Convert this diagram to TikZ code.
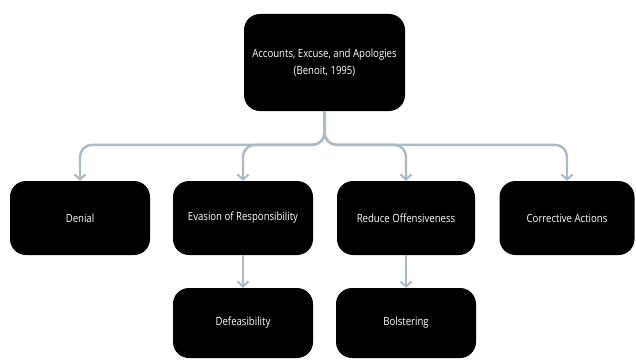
\documentclass[tikz,border=0pt]{standalone}
\usepackage{fontspec}
\setmainfont[FakeStretch=0.85]{Open Sans}
\usetikzlibrary{arrows.meta}
\definecolor{linec}{HTML}{A9BBC6}
\tikzset{
  box/.style={fill=black, rounded corners=16pt, text=white, align=center,
    font=\fontsize{11.3}{17}\selectfont, inner sep=0pt},
  conn/.style={draw=linec, line width=2.4pt, rounded corners=12pt,
    -{Straight Barb[length=5pt,width=11pt,line width=2pt]}},
}
\begin{document}
\begin{tikzpicture}[x=1pt,y=-1pt]
\useasboundingbox (0,0) rectangle (636,361);
\node[box, minimum width=161pt, minimum height=97pt] (top) at (324.5,62.5)
  {Accounts, Excuse, and Apologies\\(Benoit, 1995)};
\node[box, minimum width=140pt, minimum height=74pt] (denial) at (80,218) {Denial};
\node[box, minimum width=140pt, minimum height=74pt] (evasion) at (243,218) {Evasion of Responsibility};
\node[box, minimum width=138pt, minimum height=74pt] (reduce) at (406,218) {Reduce Offensiveness};
\node[box, minimum width=135pt, minimum height=74pt] (corr) at (567,218) {Corrective Actions};
\node[box, minimum width=140pt, minimum height=70pt] (defe) at (243,323) {Defeasibility};
\node[box, minimum width=140pt, minimum height=70pt] (bols) at (406,323) {Bolstering};
\foreach \t in {denial,evasion,reduce,corr}{
  \draw[conn] (top.south) |- ([yshift=36pt]\t.north) -- (\t.north);
}
\draw[conn] (evasion.south) -- (defe.north);
\draw[conn] (reduce.south) -- (bols.north);
\end{tikzpicture}
\end{document}
